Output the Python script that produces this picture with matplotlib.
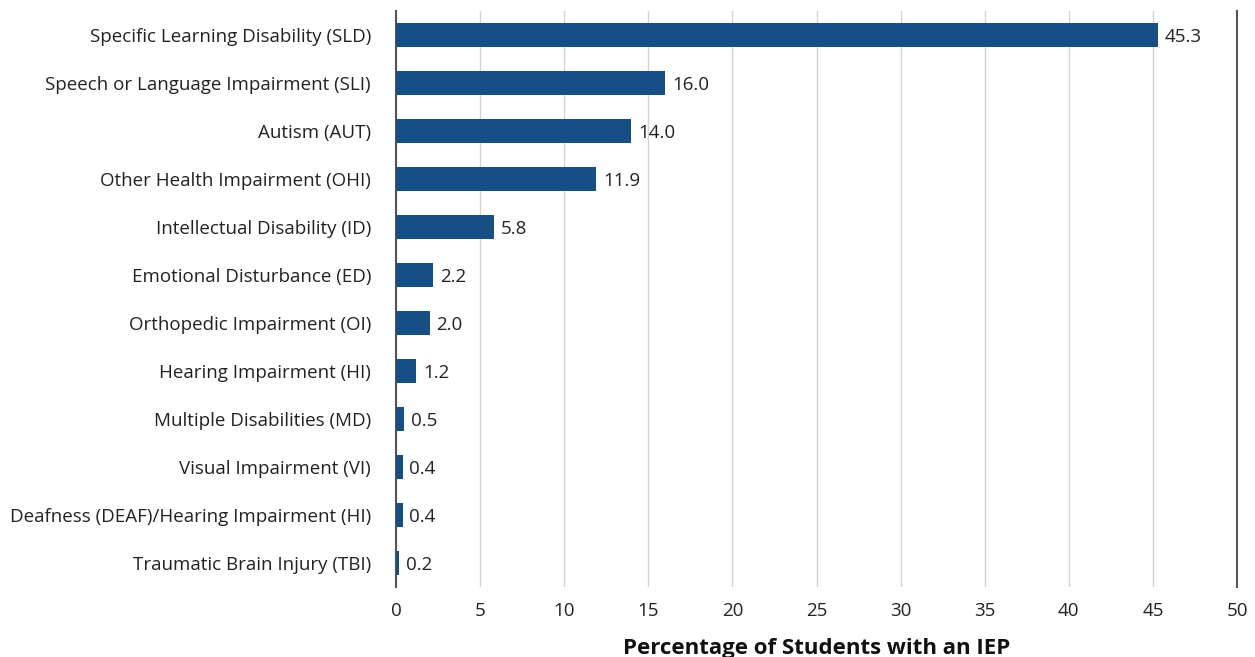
import matplotlib
matplotlib.use("Agg")
import matplotlib.pyplot as plt

categories = [
    "Specific Learning Disability (SLD)",
    "Speech or Language Impairment (SLI)",
    "Autism (AUT)",
    "Other Health Impairment (OHI)",
    "Intellectual Disability (ID)",
    "Emotional Disturbance (ED)",
    "Orthopedic Impairment (OI)",
    "Hearing Impairment (HI)",
    "Multiple Disabilities (MD)",
    "Visual Impairment (VI)",
    "Deafness (DEAF)/Hearing Impairment (HI)",
    "Traumatic Brain Injury (TBI)",
]
percentages = [45.3, 16.0, 14.0, 11.9, 5.8, 2.2, 2.0, 1.2, 0.5, 0.4, 0.4, 0.2]
x_ticks = [0, 5, 10, 15, 20, 25, 30, 35, 40, 45, 50]

plt.rcParams["font.family"] = ["Open Sans", "DejaVu Sans"]

W, H = 1255, 657
fig = plt.figure(figsize=(W / 100, H / 100), dpi=100)
ax = fig.add_axes([396 / W, 1 - 587 / H, (1237 - 396) / W, (587 - 11) / H])

bar_color = "#164f84"
text_color = "#222222"
fs = 13.5
ypos = list(range(len(categories)))
ax.barh(ypos, percentages, height=0.5, color=bar_color, zorder=3)

for y, v in zip(ypos, percentages):
    ax.text(v + 0.4, y, f"{v:.1f}", va="center_baseline", ha="left",
            fontsize=fs, color=text_color)

ax.set_ylim(len(categories) - 0.5, -0.5)
ax.set_xlim(0, 50)
ax.set_yticks(ypos)
ax.set_yticklabels(categories, fontsize=fs, color=text_color,
                   va="center_baseline")
ax.set_xticks(x_ticks)
ax.set_xticklabels([str(t) for t in x_ticks], fontsize=fs, color=text_color)
ax.tick_params(axis="both", length=0)
ax.tick_params(axis="y", pad=18)
ax.tick_params(axis="x", pad=11)

ax.grid(axis="x", color="#d4d4d4", linewidth=1.0, zorder=0)
ax.set_axisbelow(True)

for side in ("top", "bottom"):
    ax.spines[side].set_visible(False)
for side in ("left", "right"):
    ax.spines[side].set_color("#555555")
    ax.spines[side].set_linewidth(1.5)

ax.set_xlabel("Percentage of Students with an IEP", fontsize=16,
              fontweight="bold", color="#111111", labelpad=13)

fig.savefig("out.png", dpi=100, facecolor="white")
